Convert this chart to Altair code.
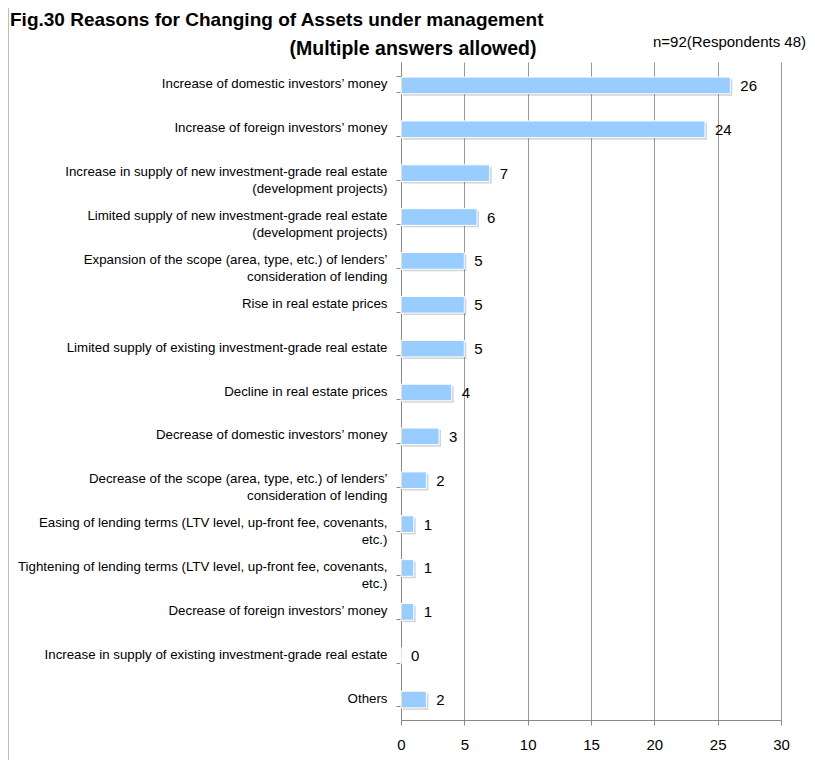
import altair as alt
import pandas as pd

categories = [
    "Increase of domestic investors\u2019 money",
    "Increase of foreign investors\u2019 money",
    "Increase in supply of new investment-grade real estate|(development projects)",
    "Limited supply of new investment-grade real estate|(development projects)",
    "Expansion of the scope (area, type, etc.) of lenders\u2019|consideration of lending",
    "Rise in real estate prices",
    "Limited supply of existing investment-grade real estate",
    "Decline in real estate prices",
    "Decrease of domestic investors\u2019 money",
    "Decrease of the scope (area, type, etc.) of lenders\u2019|consideration of lending",
    "Easing of lending terms (LTV level, up-front fee, covenants,|etc.)",
    "Tightening of lending terms (LTV level, up-front fee, covenants,|etc.)",
    "Decrease of foreign investors\u2019 money",
    "Increase in supply of existing investment-grade real estate",
    "Others",
]
values = [26, 24, 7, 6, 5, 5, 5, 4, 3, 2, 1, 1, 1, 0, 2]
x_ticks = [0, 5, 10, 15, 20, 25, 30]

title_text = "Fig.30 Reasons for Changing of Assets under management"
subtitle_text = "(Multiple answers allowed)"
note_text = "n=92(Respondents 48)"

df = pd.DataFrame({"cat": categories, "val": values})

FONT = "Liberation Sans"

y_enc = alt.Y(
    "cat:N",
    sort=categories,
    title=None,
    scale=alt.Scale(paddingInner=0.62, paddingOuter=0.31),
    axis=alt.Axis(
        labelExpr="split(datum.label, '|')",
        labelFont=FONT,
        labelFontSize=13.3,
        labelColor="#000000",
        labelLineHeight=17,
        labelPadding=9,
        labelLimit=400,
        tickBand="extent",
        tickSize=5,
        tickColor="#888888",
        domainColor="#888888",
        grid=False,
    ),
)
x_enc = alt.X(
    "val:Q",
    title=None,
    scale=alt.Scale(domain=[0, 30], nice=False),
    axis=alt.Axis(
        values=x_ticks,
        labelFont=FONT,
        labelFontSize=15,
        labelColor="#000000",
        labelPadding=12,
        labelFlush=False,
        tickSize=5,
        tickColor="#888888",
        domainColor="#888888",
        gridColor="#999999",
        gridWidth=1,
    ),
)

shadow = alt.Chart(df).mark_bar(
    color="#555555", opacity=0.25, xOffset=2, yOffset=3.5
).encode(y=y_enc, x=x_enc)

bars = alt.Chart(df).mark_bar(
    color="#99CCFF", stroke="#FFFFFF", strokeWidth=1, yOffset=1.5
).encode(y=y_enc, x=x_enc)

labels = alt.Chart(df).mark_text(
    align="left", baseline="middle", dx=10, dy=2, font=FONT, fontSize=15, color="#000000"
).encode(y=y_enc, x=x_enc, text="val:Q")

ttl = alt.Chart(pd.DataFrame({"t": [title_text]})).mark_text(
    font=FONT, fontSize=19, fontWeight="bold", align="left", baseline="middle", color="#000000"
).encode(x=alt.value(-391), y=alt.value(-42), text="t:N")

sub = alt.Chart(pd.DataFrame({"t": [subtitle_text]})).mark_text(
    font=FONT, fontSize=19.5, fontWeight="bold", align="center", baseline="middle", color="#000000"
).encode(x=alt.value(12), y=alt.value(-13), text="t:N")

note = alt.Chart(pd.DataFrame({"t": [note_text]})).mark_text(
    font=FONT, fontSize=15, align="right", baseline="middle", color="#000000"
).encode(x=alt.value(405), y=alt.value(-20), text="t:N")

frame = alt.Chart(pd.DataFrame({"a": [0]})).mark_rule(color="#AAAAAA", strokeWidth=1.5).encode(
    x=alt.value(-393), y=alt.value(-62), y2=alt.value(700)
)

chart = alt.layer(shadow, bars, labels, ttl, sub, note, frame).properties(
    width=380,
    height=658,
    autosize=alt.AutoSizeParams(type="none"),
    padding={"left": 393, "top": 54, "right": 26, "bottom": 40},
).configure_view(stroke=None)

chart.save("out.html", embed_options={"renderer": "svg", "actions": False})
